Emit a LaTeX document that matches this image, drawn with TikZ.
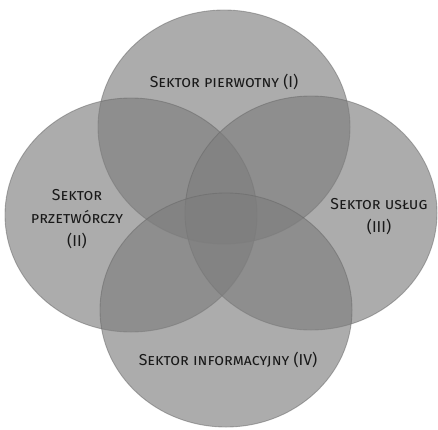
\documentclass[tikz,border=0pt]{standalone}
\usepackage{fontspec}
\setmainfont{Fira Sans}

\begin{document}
\begin{tikzpicture}[x=0.02cm, y=-0.02cm,
    sector/.style={fill=black!51, fill opacity=0.64, draw=black!60, draw opacity=0.5, line width=0.5pt},
    sectorlabel/.style={text=black!90, font=\scshape\fontsize{9}{11}\selectfont, align=center, inner sep=0pt}]
    \useasboundingbox (0,0) rectangle (438,429);

    \def\rx{126}
    \def\ry{117}

    % four overlapping sectors
    \foreach \cx/\cy in {224/127, 131/215, 311/213, 226/310} {
      \filldraw[sector] (\cx,\cy) ellipse [x radius=\rx, y radius=\ry];
    }

    \node[sectorlabel] (lI) at (224,82) {Sektor pierwotny (I)};
    \node[sectorlabel] (lII) at (77,219) {Sektor\\[2pt] przetwórczy\\[2pt] (II)};
    \node[sectorlabel] (lIII) at (379,217) {Sektor usług\\[2pt] (III)};
    \node[sectorlabel] (lIV) at (228,360) {Sektor informacyjny (IV)};
  \end{tikzpicture}
\end{document}
